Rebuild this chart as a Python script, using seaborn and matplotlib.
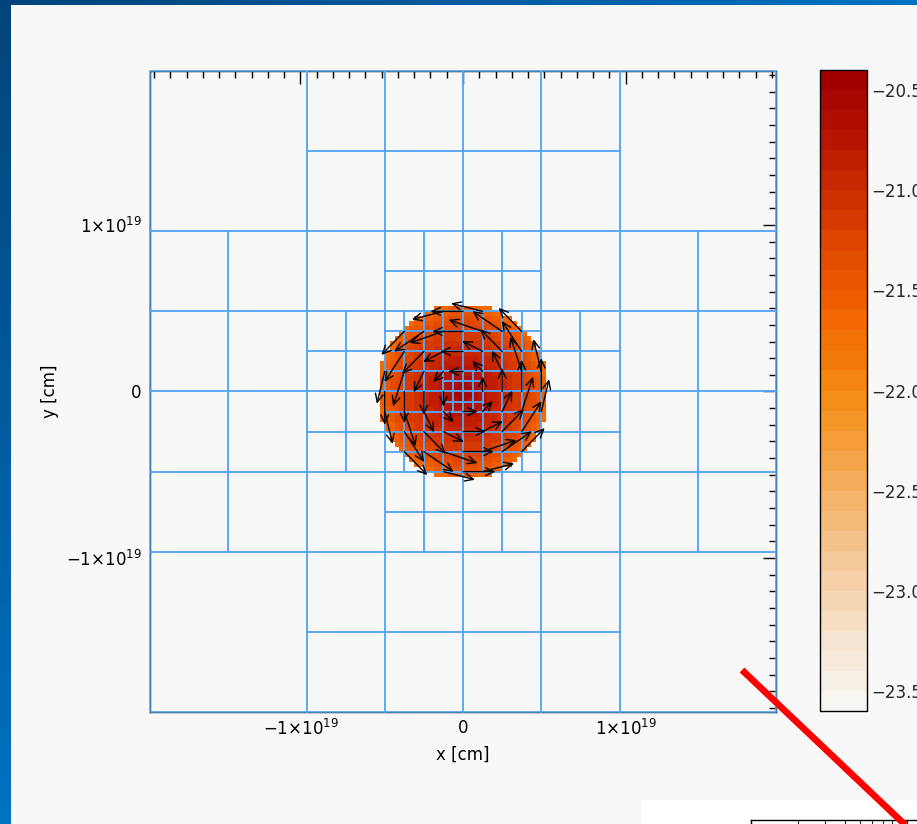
import numpy as np
import matplotlib
matplotlib.use("Agg")
import matplotlib.pyplot as plt
import seaborn as sns
from matplotlib.colors import ListedColormap, LinearSegmentedColormap
from matplotlib.patches import Rectangle
from matplotlib.lines import Line2D
from matplotlib.ticker import FixedLocator, MultipleLocator, LogLocator, NullFormatter

W, H = 917, 824

# AMR box and refinement
BOX_HALF = 1.925e19
REFINE_RADIUS = [0.55, 0.30, 0.20, 0.03]   # fraction of BOX_HALF, per level

# gas disk: log density per ring (r / DISK_R)
DISK_R = 5.25e18
RING_EDGES = [0.0, 0.10, 0.20, 0.30, 0.40, 0.50, 0.60, 0.70, 0.78, 0.85, 0.91, 0.96, 1.0]
RING_LOGRHO = [-20.58, -20.64, -20.72, -20.82, -20.93, -21.04, -21.15, -21.26,
               -21.36, -21.45, -21.54, -21.64]
N_PIX = 128

# rotation field: arrow length [cm] per radial bin [cm]
VROT_EDGES = [0.0, 0.9e18, 1.8e18, 2.8e18, 3.7e18, 4.6e18]
VROT_LEN = [0.45e18, 0.9e18, 1.4e18, 1.9e18, 2.2e18, 2.0e18]

X_TICKS = [-1e19, 0, 1e19]
X_TICK_LABELS = [r"$-1{\times}10^{19}$", "0", r"$1{\times}10^{19}$"]
CBAR_TICKS = [-23.5, -23.0, -22.5, -22.0, -21.5, -21.0, -20.5]
CBAR_RANGE = (-23.6, -20.4)
CBAR_COLORS = ["#f8f6f3", "#f6dfc4", "#f5c490", "#f5a850", "#f58a10",
               "#f26400", "#dc4200", "#c01c00", "#a00000"]
GRID_BLUE = "#55a6f7"
PANEL = "#f8f8f8"


def amr_cells(x0, y0, size, level=0):
    # distance from the centre to the nearest point of the cell
    dx = max(x0, -(x0 + size), 0.0)
    dy = max(y0, -(y0 + size), 0.0)
    if level < len(REFINE_RADIUS) and np.hypot(dx, dy) < REFINE_RADIUS[level] * BOX_HALF:
        half = size / 2
        out = []
        for ox in (0, half):
            for oy in (0, half):
                out += amr_cells(x0 + ox, y0 + oy, half, level + 1)
        return out
    return [(x0, y0, size)]


sns.set_style("white")
plt.rcParams["font.family"] = ["DejaVu Sans"]
plt.rcParams["mathtext.fontset"] = "dejavusans"
plt.rcParams["mathtext.default"] = "regular"

fig = plt.figure(figsize=(W / 100, H / 100), dpi=100)

# ---- slide background --------------------------------------------------
bg = fig.add_axes([0, 0, 1, 1], zorder=-10)
gy, gx = np.mgrid[0:1:60j, 0:1:60j]
bg.imshow(np.clip(gx + gy, 0, 1), cmap=LinearSegmentedColormap.from_list("frame", ["#00447a", "#0072c2"]),
          extent=[0, 1, 0, 1], aspect="auto", origin="upper")
bg.axis("off")
fig.add_artist(Rectangle((11 / W, 0), 1, 1 - 5 / H, transform=fig.transFigure,
                         facecolor=PANEL, edgecolor="none", zorder=-5))

# ---- density + AMR grid + velocity ------------------------------------
cmap = ListedColormap(sns.blend_palette(CBAR_COLORS, n_colors=32))
cmap.set_bad((0, 0, 0, 0))

edges = np.linspace(-BOX_HALF, BOX_HALF, N_PIX + 1)
centres = 0.5 * (edges[1:] + edges[:-1])
xx, yy = np.meshgrid(centres, centres)
rr = np.hypot(xx, yy) / DISK_R
ring = np.clip(np.digitize(rr, RING_EDGES) - 1, 0, len(RING_LOGRHO) - 1)
logrho = np.where(rr < 1.0, np.array(RING_LOGRHO)[ring], np.nan)

ax = fig.add_axes([150 / W, 1 - 712 / H, 626 / W, 641 / H])
ax.set_facecolor("none")
im = ax.imshow(logrho, origin="lower", extent=[-BOX_HALF, BOX_HALF, -BOX_HALF, BOX_HALF],
               cmap=cmap, vmin=CBAR_RANGE[0], vmax=CBAR_RANGE[1],
               interpolation="nearest", aspect="auto", zorder=1)

root = BOX_HALF / 2
cells = []
for i in range(4):
    for j in range(4):
        cells += amr_cells(-BOX_HALF + i * root, -BOX_HALF + j * root, root)
for x0, y0, s in cells:
    ax.add_patch(Rectangle((x0, y0), s, s, fill=False, edgecolor=GRID_BLUE,
                           lw=1.1, zorder=3, clip_on=False))

step = BOX_HALF / 16
nodes = np.arange(-4, 5) * step
for x in nodes:
    for y in nodes:
        r = np.hypot(x, y)
        if r == 0 or r >= DISK_R:
            continue
        length = VROT_LEN[np.digitize(r, VROT_EDGES) - 1]
        ux, uy = -y / r, x / r
        ax.annotate("", xy=(x + ux * length, y + uy * length), xytext=(x, y),
                    arrowprops=dict(arrowstyle="->,head_length=0.6,head_width=0.28",
                                    color="black", lw=1.0, shrinkA=0, shrinkB=0),
                    zorder=4)

ax.set_xlim(-BOX_HALF, BOX_HALF)
ax.set_ylim(-BOX_HALF, BOX_HALF)
ax.xaxis.set_major_locator(FixedLocator(X_TICKS))
ax.yaxis.set_major_locator(FixedLocator(X_TICKS))
ax.set_xticklabels(X_TICK_LABELS)
ax.set_yticklabels(X_TICK_LABELS)
ax.xaxis.set_minor_locator(MultipleLocator(1e18))
ax.yaxis.set_minor_locator(MultipleLocator(1e18))
ax.tick_params(which="both", direction="in", top=True, right=True, color="black",
               width=1.0, labelsize=12, labelcolor="black")
ax.tick_params(which="major", length=9.5)
ax.tick_params(which="minor", length=5)
ax.tick_params(axis="x", pad=5)
ax.tick_params(axis="y", pad=6)
for sp in ax.spines.values():
    sp.set_color("black")
    sp.set_linewidth(1.0)

ax.set_xlabel("x [cm]", fontsize=12, color="black")
ax.xaxis.set_label_coords(0.5, -0.052)
ax.set_ylabel("y [cm]", fontsize=12, color="black")
ax.yaxis.label.set_va("center")
ax.yaxis.set_label_coords(-0.16, 0.5)

# ---- colour bar --------------------------------------------------------
cax = fig.add_axes([820 / W, 1 - 711 / H, 47 / W, 641 / H])
cb = fig.colorbar(im, cax=cax)
cb.outline.set_linewidth(1.0)
cb.outline.set_edgecolor("black")
cb.set_ticks(CBAR_TICKS)
cb.set_ticklabels([f"{v:.1f}".replace("-", "\u2212") for v in CBAR_TICKS])
cax.yaxis.set_minor_locator(MultipleLocator(0.1))
cax.tick_params(which="major", direction="in", left=True, right=True, length=4,
                width=1.0, color="black", labelsize=12, pad=3)
cax.tick_params(which="minor", direction="in", left=True, right=False, length=3,
                width=0.8, color="black")

# ---- neighbouring slide content ---------------------------------------
fig.add_artist(Rectangle((641 / W, 0), 1, 24 / H, transform=fig.transFigure,
                         facecolor="white", edgecolor="none", zorder=-4))
ax2 = fig.add_axes([750.7 / W, 4 / H - 0.3, 468 / W, 0.3], zorder=1)
ax2.set_facecolor("white")
ax2.set_xscale("log")
ax2.set_xlim(1, 1000)
ax2.xaxis.set_minor_locator(LogLocator(base=10, subs=np.arange(2, 10)))
ax2.xaxis.set_minor_formatter(NullFormatter())
ax2.tick_params(which="both", direction="in", top=True, bottom=False, labeltop=False,
                labelbottom=False, left=False, labelleft=False, length=6, width=0.8)
for sp in ax2.spines.values():
    sp.set_color("black")
    sp.set_linewidth(1.0)

fig.add_artist(Line2D([742 / W, 940 / W], [1 - 670 / H, 1 - 858 / H],
                      transform=fig.transFigure, color="#ff0000", lw=4.8,
                      solid_capstyle="butt", zorder=20))

fig.savefig("out.png", dpi=100)
